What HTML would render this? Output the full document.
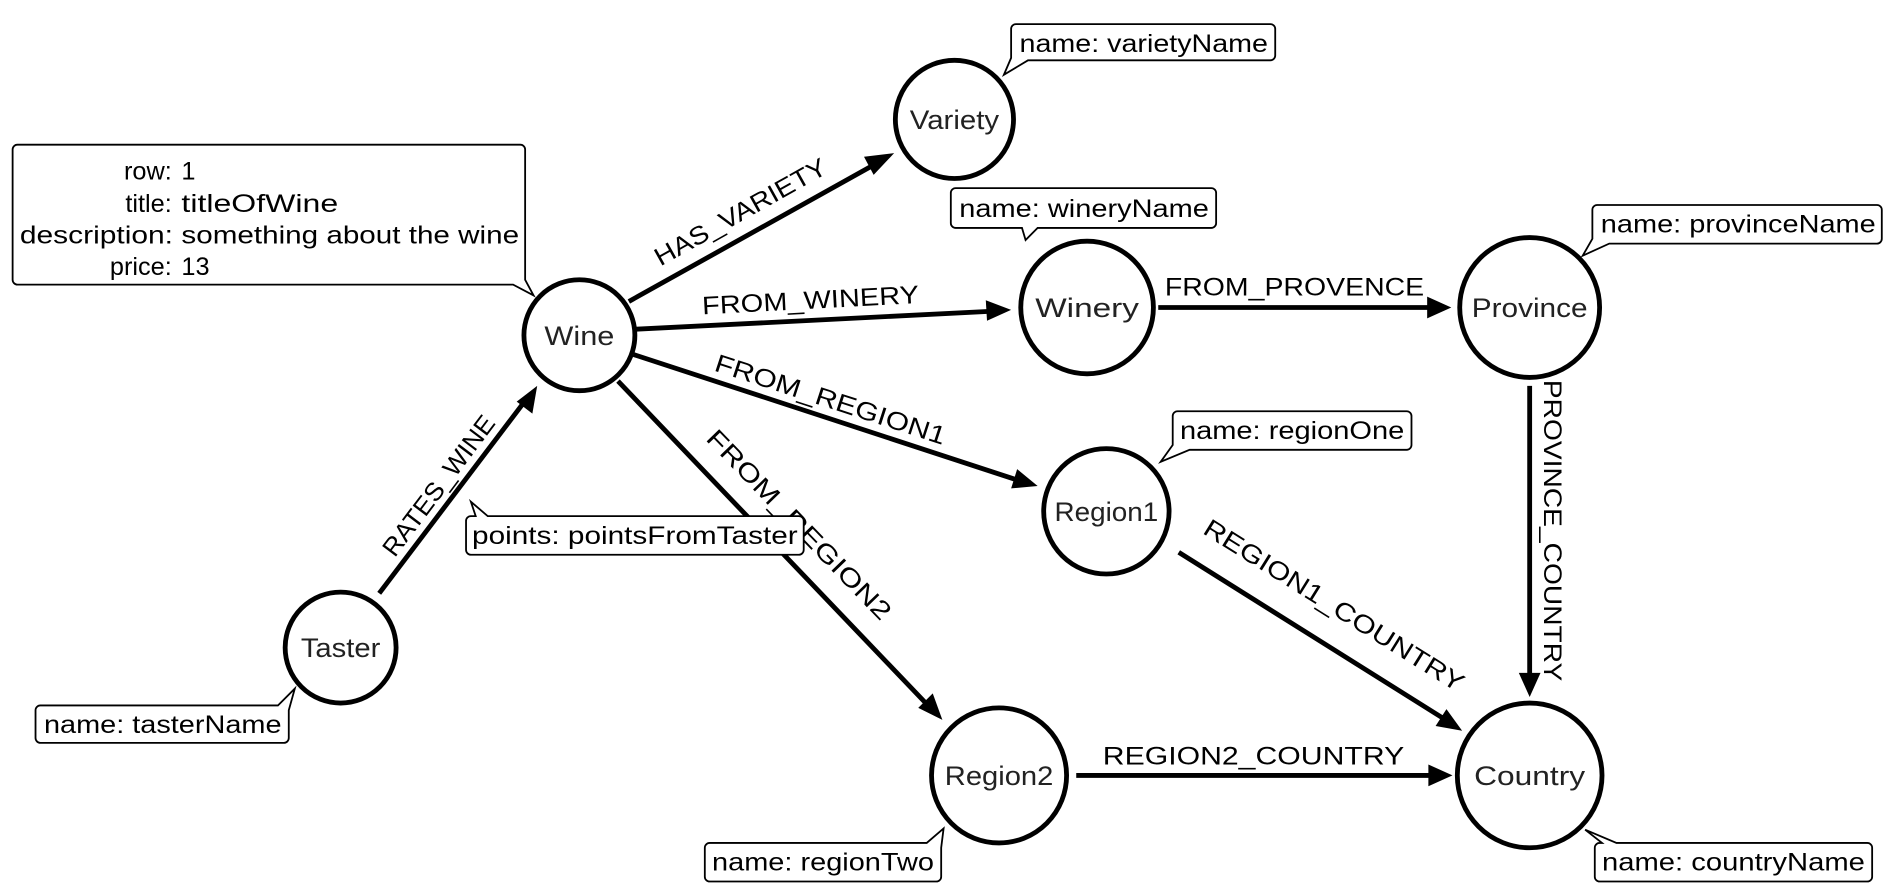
<!DOCTYPE html>
<html><head><meta charset="utf-8"><style>
html,body{margin:0;padding:0;background:#fff;width:1892px;height:896px;overflow:hidden}
text{font-family:"Liberation Sans",sans-serif}
</style></head><body>
<svg width="1892" height="896" viewBox="0 0 1568 743" xmlns="http://www.w3.org/2000/svg">
<g stroke="#000" stroke-width="4" fill="none">
<line x1="314" y1="492" x2="436" y2="331"/>
<line x1="521" y1="250" x2="729" y2="134"/>
<line x1="527" y1="273" x2="824" y2="258"/>
<line x1="525" y1="294" x2="846" y2="399"/>
<line x1="512" y1="316" x2="771" y2="587"/>
<line x1="960" y1="255" x2="1190" y2="255"/>
<line x1="1268" y1="320" x2="1268" y2="564"/>
<line x1="977" y1="458" x2="1200" y2="598"/>
<line x1="892" y1="643" x2="1190" y2="643"/>
</g>
<g fill="#000">
<polygon points="445,320 441,343 428,333"/>
<polygon points="741,127 724,145 716,130"/>
<polygon points="838,257 818,266 817,249"/>
<polygon points="860,403 838,405 843,389"/>
<polygon points="781,597 761,587 773,575"/>
<polygon points="1203,255 1183,264 1183,246"/>
<polygon points="1268,578 1259,558 1277,558"/>
<polygon points="1212,606 1190,602 1199,588"/>
<polygon points="1204,643 1184,652 1184,634"/>
</g>
<g font-size="21" fill="#000" text-anchor="middle">
<text x="0" y="0" transform="translate(617,182) rotate(-29.2)" textLength="160" lengthAdjust="spacingAndGlyphs">HAS_VARIETY</text>
<text x="0" y="0" transform="translate(672,256) rotate(-3)" textLength="180" lengthAdjust="spacingAndGlyphs">FROM_WINERY</text>
<text x="0" y="0" transform="translate(686,338) rotate(18)" textLength="200" lengthAdjust="spacingAndGlyphs">FROM_REGION1</text>
<text x="0" y="0" transform="translate(657,440) rotate(46)" textLength="210" lengthAdjust="spacingAndGlyphs">FROM_REGION2</text>
<text x="0" y="0" transform="translate(369,407) rotate(-53)" textLength="140" lengthAdjust="spacingAndGlyphs">RATES_WINE</text>
<text x="1073" y="245" textLength="215" lengthAdjust="spacingAndGlyphs">FROM_PROVENCE</text>
<text x="0" y="0" transform="translate(1280,440) rotate(90)" textLength="250" lengthAdjust="spacingAndGlyphs">PROVINCE_COUNTRY</text>
<text x="0" y="0" transform="translate(1102,508) rotate(32)" textLength="250" lengthAdjust="spacingAndGlyphs">REGION1_COUNTRY</text>
<text x="1039" y="634" textLength="250" lengthAdjust="spacingAndGlyphs">REGION2_COUNTRY</text>
</g>
<g stroke="#000" stroke-width="4" fill="#fff">
<circle cx="480" cy="278" r="46"/>
<circle cx="791" cy="99" r="49"/>
<circle cx="901" cy="255" r="55"/>
<circle cx="1268" cy="255" r="58"/>
<circle cx="917" cy="424" r="52"/>
<circle cx="282" cy="537" r="46"/>
<circle cx="828" cy="643" r="56"/>
<circle cx="1268" cy="643" r="60"/>
</g>
<g font-size="22" fill="#222" text-anchor="middle">
<text x="480" y="286" textLength="58" lengthAdjust="spacingAndGlyphs">Wine</text>
<text x="791" y="107" textLength="74" lengthAdjust="spacingAndGlyphs">Variety</text>
<text x="901" y="263" textLength="86" lengthAdjust="spacingAndGlyphs">Winery</text>
<text x="1268" y="263" textLength="96" lengthAdjust="spacingAndGlyphs">Province</text>
<text x="917" y="432" textLength="86" lengthAdjust="spacingAndGlyphs">Region1</text>
<text x="282" y="545" textLength="66" lengthAdjust="spacingAndGlyphs">Taster</text>
<text x="828" y="651" textLength="90" lengthAdjust="spacingAndGlyphs">Region2</text>
<text x="1268" y="651" textLength="92" lengthAdjust="spacingAndGlyphs">Country</text>
</g>
<g stroke="#000" stroke-width="1.5" fill="#fff">
<path d="M14,120 H431 a4,4 0 0 1 4,4 V232 l7,13 l-17,-9 H14 a4,4 0 0 1 -4,-4 V124 a4,4 0 0 1 4,-4z"/>
<path d="M842,20 H1053 a4,4 0 0 1 4,4 V46 a4,4 0 0 1 -4,4 H852 l-20,12 l6,-14 V24 a4,4 0 0 1 4,-4z"/>
<path d="M792,156 H1004 a4,4 0 0 1 4,4 V185 a4,4 0 0 1 -4,4 H860 l-10,10 l-3,-10 H792 a4,4 0 0 1 -4,-4 V160 a4,4 0 0 1 4,-4z"/>
<path d="M1324,170 H1556 a4,4 0 0 1 4,4 V198 a4,4 0 0 1 -4,4 H1334 l-22,10 l8,-14 V174 a4,4 0 0 1 4,-4z"/>
<path d="M976,341 H1166 a4,4 0 0 1 4,4 V369 a4,4 0 0 1 -4,4 H986 l-24,10 l10,-14 V345 a4,4 0 0 1 4,-4z"/>
<path d="M404,428 H662 a4,4 0 0 1 4,4 V456 a4,4 0 0 1 -4,4 H390 a4,4 0 0 1 -4,-4 V432 a4,4 0 0 1 4,-4 H394 L390,416 Z"/>
<path d="M33,585 H230 l14,-14 l-5,18 V612 a4,4 0 0 1 -4,4 H33 a4,4 0 0 1 -4,-4 V589 a4,4 0 0 1 4,-4z"/>
<path d="M588,699 H768 l14,-12 l-2,16 V727 a4,4 0 0 1 -4,4 H588 a4,4 0 0 1 -4,-4 V703 a4,4 0 0 1 4,-4z"/>
<path d="M1340,699 H1548 a4,4 0 0 1 4,4 V727 a4,4 0 0 1 -4,4 H1326 a4,4 0 0 1 -4,-4 V703 a4,4 0 0 1 4,-4 H1328 L1314,688 Z"/>
</g>
<g font-size="21" fill="#000">
<text x="142" y="149" text-anchor="end">row:</text><text x="150" y="149">1</text>
<text x="142" y="176" text-anchor="end">title:</text><text x="150" y="176" textLength="130" lengthAdjust="spacingAndGlyphs">titleOfWine</text>
<text x="16" y="202" textLength="127" lengthAdjust="spacingAndGlyphs">description:</text><text x="150" y="202" textLength="280" lengthAdjust="spacingAndGlyphs">something about the wine</text>
<text x="142" y="228" text-anchor="end">price:</text><text x="150" y="228">13</text>
<text x="845" y="43" textLength="206" lengthAdjust="spacingAndGlyphs">name: varietyName</text>
<text x="795" y="180" textLength="207" lengthAdjust="spacingAndGlyphs">name: wineryName</text>
<text x="1327" y="193" textLength="228" lengthAdjust="spacingAndGlyphs">name: provinceName</text>
<text x="978" y="364" textLength="186" lengthAdjust="spacingAndGlyphs">name: regionOne</text>
<text x="391" y="451" textLength="270" lengthAdjust="spacingAndGlyphs">points: pointsFromTaster</text>
<text x="36" y="608" textLength="197" lengthAdjust="spacingAndGlyphs">name: tasterName</text>
<text x="590" y="722" textLength="184" lengthAdjust="spacingAndGlyphs">name: regionTwo</text>
<text x="1328" y="722" textLength="218" lengthAdjust="spacingAndGlyphs">name: countryName</text>
</g>
</svg>
</body></html>
